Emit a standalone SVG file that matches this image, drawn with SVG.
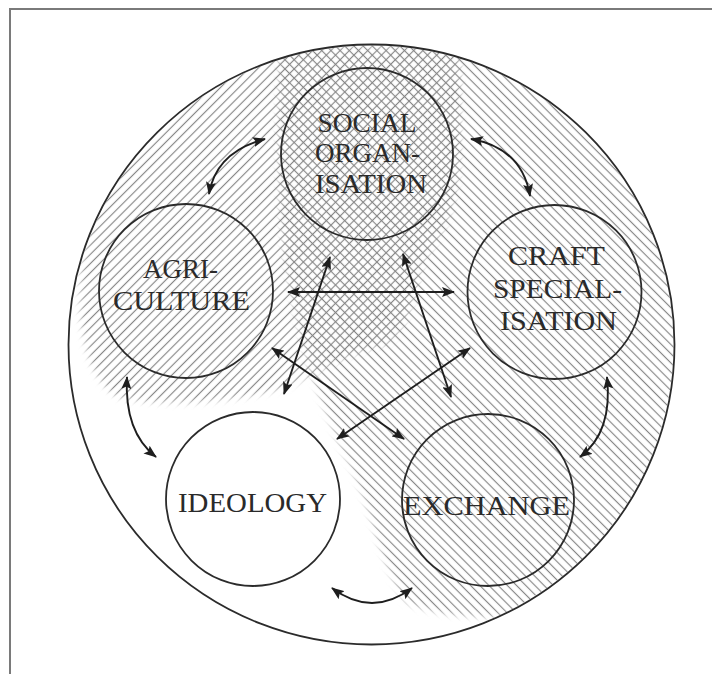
<svg xmlns="http://www.w3.org/2000/svg" width="712" height="674" viewBox="0 0 712 674">
  <style>
    .ring { fill: none; stroke: #2b2b2b; stroke-width: 1.8; }
    .label { font-family: "Liberation Serif", "Times New Roman", serif; font-size: 27px; fill: #2a2a2a; text-anchor: middle; }
    .link { fill: none; stroke: #1e1e1e; stroke-width: 1.9; marker-start: url(#head); marker-end: url(#head); }
    .frame { stroke: #7a7a7a; stroke-width: 2; fill: none; }
  </style>
  <defs>
    <!-- diagonal rulings: "/" and "\" -->
    <pattern id="hatch-up" width="8" height="6.5" patternUnits="userSpaceOnUse" patternTransform="rotate(-45)">
      <line x1="0" y1="3.25" x2="8" y2="3.25" stroke="#858585" stroke-width="1.15"/>
    </pattern>
    <pattern id="hatch-down" width="8" height="6.5" patternUnits="userSpaceOnUse" patternTransform="rotate(45)">
      <line x1="0" y1="3.25" x2="8" y2="3.25" stroke="#858585" stroke-width="1.15"/>
    </pattern>
    <clipPath id="outer-clip">
      <ellipse cx="371.5" cy="344.5" rx="302" ry="299"/>
    </clipPath>
    <filter id="soften" x="-10%" y="-10%" width="120%" height="120%">
      <feGaussianBlur stdDeviation="3"/>
    </filter>
    <mask id="zone-up" maskUnits="userSpaceOnUse" x="0" y="0" width="712" height="674">
      <path fill="#fff" filter="url(#soften)" d="M298,46 C250,56 195,84 150,128 C108,170 82,230 80,295 C80,345 93,382 118,397 C165,408 240,402 290,386 C322,370 348,352 388,344 C408,328 416,290 423,262 C438,240 458,215 460,150 L460,46 Z"/>
    </mask>
    <mask id="zone-down" maskUnits="userSpaceOnUse" x="0" y="0" width="712" height="674">
      <path fill="#fff" filter="url(#soften)" d="M280,40 L278,120 C278,200 282,260 294,305 C302,350 322,410 350,465 C372,510 382,570 407,603 C452,622 530,622 580,598 C620,573 650,530 670,480 L712,480 L712,40 Z"/>
    </mask>
    <marker id="head" viewBox="0 0 13 10" refX="12" refY="5" markerWidth="13" markerHeight="10" markerUnits="userSpaceOnUse" orient="auto-start-reverse">
      <path d="M0,0 L13,5 L0,10 L2.5,5 Z" fill="#1e1e1e"/>
    </marker>
  </defs>

  <rect width="712" height="674" fill="#fff"/>
  <!-- frame (left and top edges) -->
  <path class="frame" d="M10,674 L10,9 L712,9"/>

  <!-- shaded zones -->
  <g id="shading" clip-path="url(#outer-clip)">
    <rect x="0" y="0" width="712" height="674" fill="url(#hatch-up)" mask="url(#zone-up)"/>
    <rect x="0" y="0" width="712" height="674" fill="url(#hatch-down)" mask="url(#zone-down)"/>
  </g>

  <!-- outer boundary -->
  <ellipse id="whole" class="ring" cx="371.5" cy="344.5" rx="303" ry="300"/>

  <g id="social-organisation">
    <circle class="ring" cx="367" cy="154" r="86"/>
    <text class="label" x="367" y="132" textLength="99" lengthAdjust="spacingAndGlyphs">SOCIAL</text>
    <text class="label" x="367.5" y="162" textLength="105" lengthAdjust="spacingAndGlyphs">ORGAN-</text>
    <text class="label" x="371" y="193" textLength="112" lengthAdjust="spacingAndGlyphs">ISATION</text>
  </g>

  <g id="agriculture">
    <circle class="ring" cx="186" cy="291" r="87"/>
    <text class="label" x="180.5" y="278" textLength="75" lengthAdjust="spacingAndGlyphs">AGRI-</text>
    <text class="label" x="181.5" y="310" textLength="137" lengthAdjust="spacingAndGlyphs">CULTURE</text>
  </g>

  <g id="craft-specialisation">
    <circle class="ring" cx="554.5" cy="292" r="87"/>
    <text class="label" x="556.5" y="265" textLength="97" lengthAdjust="spacingAndGlyphs">CRAFT</text>
    <text class="label" x="557.5" y="298" textLength="129" lengthAdjust="spacingAndGlyphs">SPECIAL-</text>
    <text class="label" x="558.5" y="330" textLength="117" lengthAdjust="spacingAndGlyphs">ISATION</text>
  </g>

  <g id="ideology">
    <circle class="ring" cx="253" cy="499" r="87"/>
    <text class="label" x="252.5" y="512" textLength="149" lengthAdjust="spacingAndGlyphs">IDEOLOGY</text>
  </g>

  <g id="exchange">
    <circle class="ring" cx="488" cy="500" r="86"/>
    <text class="label" x="486.5" y="515" textLength="167" lengthAdjust="spacingAndGlyphs">EXCHANGE</text>
  </g>

  <g id="connectors">
    <!-- straight links across the middle -->
    <line class="link" x1="288" y1="292" x2="454" y2="292"/>
    <line class="link" x1="330" y1="257" x2="284" y2="394"/>
    <line class="link" x1="403" y1="254" x2="451" y2="397"/>
    <line class="link" x1="272" y1="348" x2="404" y2="439"/>
    <line class="link" x1="470" y1="348" x2="337" y2="439"/>
    <!-- curved links between neighbours -->
    <path class="link" d="M209,194 Q216,152 265,139"/>
    <path class="link" d="M471,139 Q522,148 530,196"/>
    <path class="link" d="M127,377 Q124,432 156,457"/>
    <path class="link" d="M607,377 Q613,432 580,457"/>
    <path class="link" d="M332,588 Q372,618 412,588"/>
  </g>
</svg>
